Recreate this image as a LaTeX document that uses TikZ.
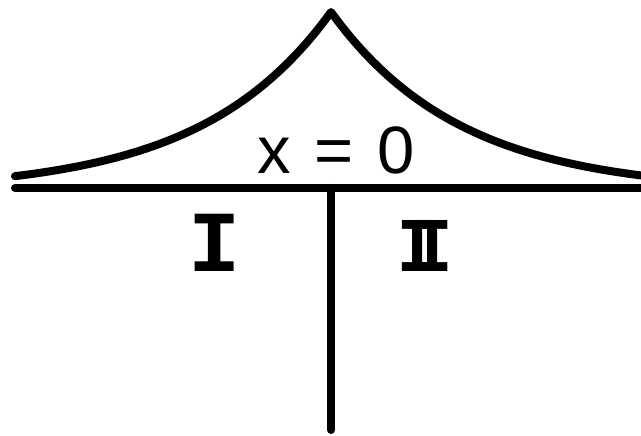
\documentclass[tikz,border=0pt]{standalone}
\usepackage{fontspec}
\usepackage{graphicx}
\setmainfont{Liberation Sans}
\newfontfamily\numfont{DejaVu Sans Mono}
\newfontfamily\onefont{Liberation Mono}
\begin{document}
\begin{tikzpicture}[x=1pt,y=-1pt,
  thick line/.style={line width=8pt,line cap=round,line join=round},
  lbl/.style={inner sep=0pt,font=\fontsize{67}{67}\selectfont},
  roman/.style={inner sep=0pt,font=\numfont\bfseries\fontsize{70}{70}\selectfont},
  romanone/.style={inner sep=0pt,font=\onefont\bfseries\fontsize{87}{87}\selectfont}]
\useasboundingbox (0,0) rectangle (641,436);
\fill[white] (0,0) rectangle (641,436);
\coordinate (L) at (15,188);
\coordinate (R) at (648,188);
\coordinate (O) at (331,188);
\coordinate (B) at (331,430);
\draw[thick line] (L) -- (R);
\draw[thick line] (O) -- (B);
\draw[thick line] plot[domain=15:331,samples=120] (\x,{192-180*exp(-(331-\x)/130)})
  -- plot[domain=331:660,samples=120] (\x,{192-180*exp(-(\x-331)/130)});
\node[lbl,anchor=base] (eq) at (336,173) {x\hspace{0.08em} =\hspace{0.08em} 0};
\node[romanone,anchor=base] (one) at (215,271) {I};
\node[roman,anchor=base] (two) at (425,271) {I\kern-0.388em I};
\end{tikzpicture}
\end{document}
